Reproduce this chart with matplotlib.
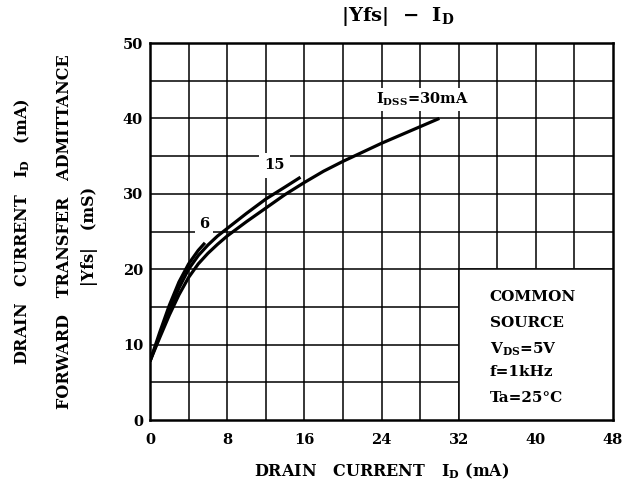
import matplotlib
matplotlib.use("Agg")
import matplotlib.pyplot as plt

plt.rcParams['font.family'] = ['DejaVu Serif']
plt.rcParams['font.weight'] = 'bold'
plt.rcParams['axes.labelweight'] = 'bold'
plt.rcParams['mathtext.fontset'] = 'custom'
plt.rcParams['mathtext.rm'] = 'DejaVu Serif:bold'
plt.rcParams['mathtext.it'] = 'DejaVu Serif:bold'
plt.rcParams['mathtext.bf'] = 'DejaVu Serif:bold'
plt.rcParams['mathtext.default'] = 'rm'

# data (ID in mA, |Yfs| in mS)
id_30 = [0, 1, 2, 3, 4, 5, 6, 7, 8, 10, 12, 14, 16, 18, 20, 22, 24, 26, 28, 30]
yfs_30 = [7.8, 10.9, 13.9, 16.6, 18.9, 20.7, 22.1, 23.3, 24.4, 26.3, 28.1, 29.9,
          31.5, 33.0, 34.3, 35.5, 36.7, 37.8, 38.9, 40.0]
id_15 = [0, 1, 2, 3, 4, 5, 6, 7, 8, 9, 10, 12, 14, 15.6]
yfs_15 = [7.8, 11.2, 14.5, 17.5, 20.0, 21.8, 23.2, 24.4, 25.4, 26.4, 27.4, 29.3, 30.9, 32.2]
id_6 = [0, 1, 2, 3, 4, 5, 5.7]
yfs_6 = [7.8, 11.6, 15.2, 18.3, 20.7, 22.5, 23.5]

x_ticks = [0, 8, 16, 24, 32, 40, 48]
y_ticks = [0, 10, 20, 30, 40, 50]

fig = plt.figure(figsize=(6.28, 4.86), dpi=100)
ax = fig.add_axes([150/628, 66/486, 463/628, 377/486])
ax.set_xlim(0, 48)
ax.set_ylim(0, 50)

# grid
for gx in range(4, 48, 4):
    ax.axvline(gx, color='black', lw=1.1, zorder=1)
for gy in range(5, 50, 5):
    ax.axhline(gy, color='black', lw=1.1, zorder=1)

# white box for conditions
ax.fill_between([32, 48], 0, 20, color='white', zorder=2)
ax.plot([32, 32, 48], [0, 20, 20], color='black', lw=1.1, zorder=2)

for x, y in [(id_30, yfs_30), (id_15, yfs_15), (id_6, yfs_6)]:
    ax.plot(x, y, color='black', lw=2.3, solid_capstyle='butt',
            solid_joinstyle='round', zorder=4)

fs = 10.5
fl = 11.5
bb = dict(facecolor='white', edgecolor='none', pad=2)
ax.text(23.4, 42.5, r'$\mathregular{I_{DSS}}$=30mA', fontsize=fs, ha='left', va='center',
        bbox=bb, zorder=3)
ax.text(12.9, 33.8, '15', fontsize=fs, ha='center', va='center',
        bbox=dict(facecolor='white', edgecolor='none', pad=4), zorder=3)
ax.text(5.6, 26.0, '6', fontsize=fs, ha='center', va='center',
        bbox=dict(facecolor='white', edgecolor='none', pad=3), zorder=3)

cond = ['COMMON', 'SOURCE', r'$\mathregular{V_{DS}}$=5V', 'f=1kHz', 'Ta=25°C']
cy = [16.3, 12.9, 9.4, 6.3, 2.9]
for t, yy in zip(cond, cy):
    ax.text(35.2, yy, t, fontsize=11, ha='left', va='center', zorder=5)

ax.set_xticks(x_ticks)
ax.set_yticks(y_ticks)
ax.tick_params(length=0, labelsize=fs)
ax.tick_params(axis='x', pad=9)
ax.tick_params(axis='y', pad=5)
for lab in ax.get_xticklabels() + ax.get_yticklabels():
    lab.set_fontweight('bold')
for s in ax.spines.values():
    s.set_linewidth(1.8)
    s.set_zorder(6)

ax.set_xlabel(r'DRAIN   CURRENT   $\mathregular{I_D}$ (mA)', fontsize=fl,
              fontweight='bold', labelpad=11)

fig.text(22/628, 1 - 232/486, r'DRAIN   CURRENT   $\mathregular{I_D}$   (mA)', rotation=90,
         fontsize=fl, ha='center', va='center')
fig.text(65/628, 1 - 232/486, 'FORWARD   TRANSFER   ADMITTANCE', rotation=90,
         fontsize=fl, ha='center', va='center')
fig.text(90/628, 1 - 236/486, '|Yfs|   (mS)', rotation=90,
         fontsize=fl, ha='center', va='center')

fig.text(398/628, 1 - 17/486, r'|Yfs|  $-$  $\mathregular{I_D}$', fontsize=14,
         ha='center', va='center')

fig.savefig('out.png', dpi=100, facecolor='white')
